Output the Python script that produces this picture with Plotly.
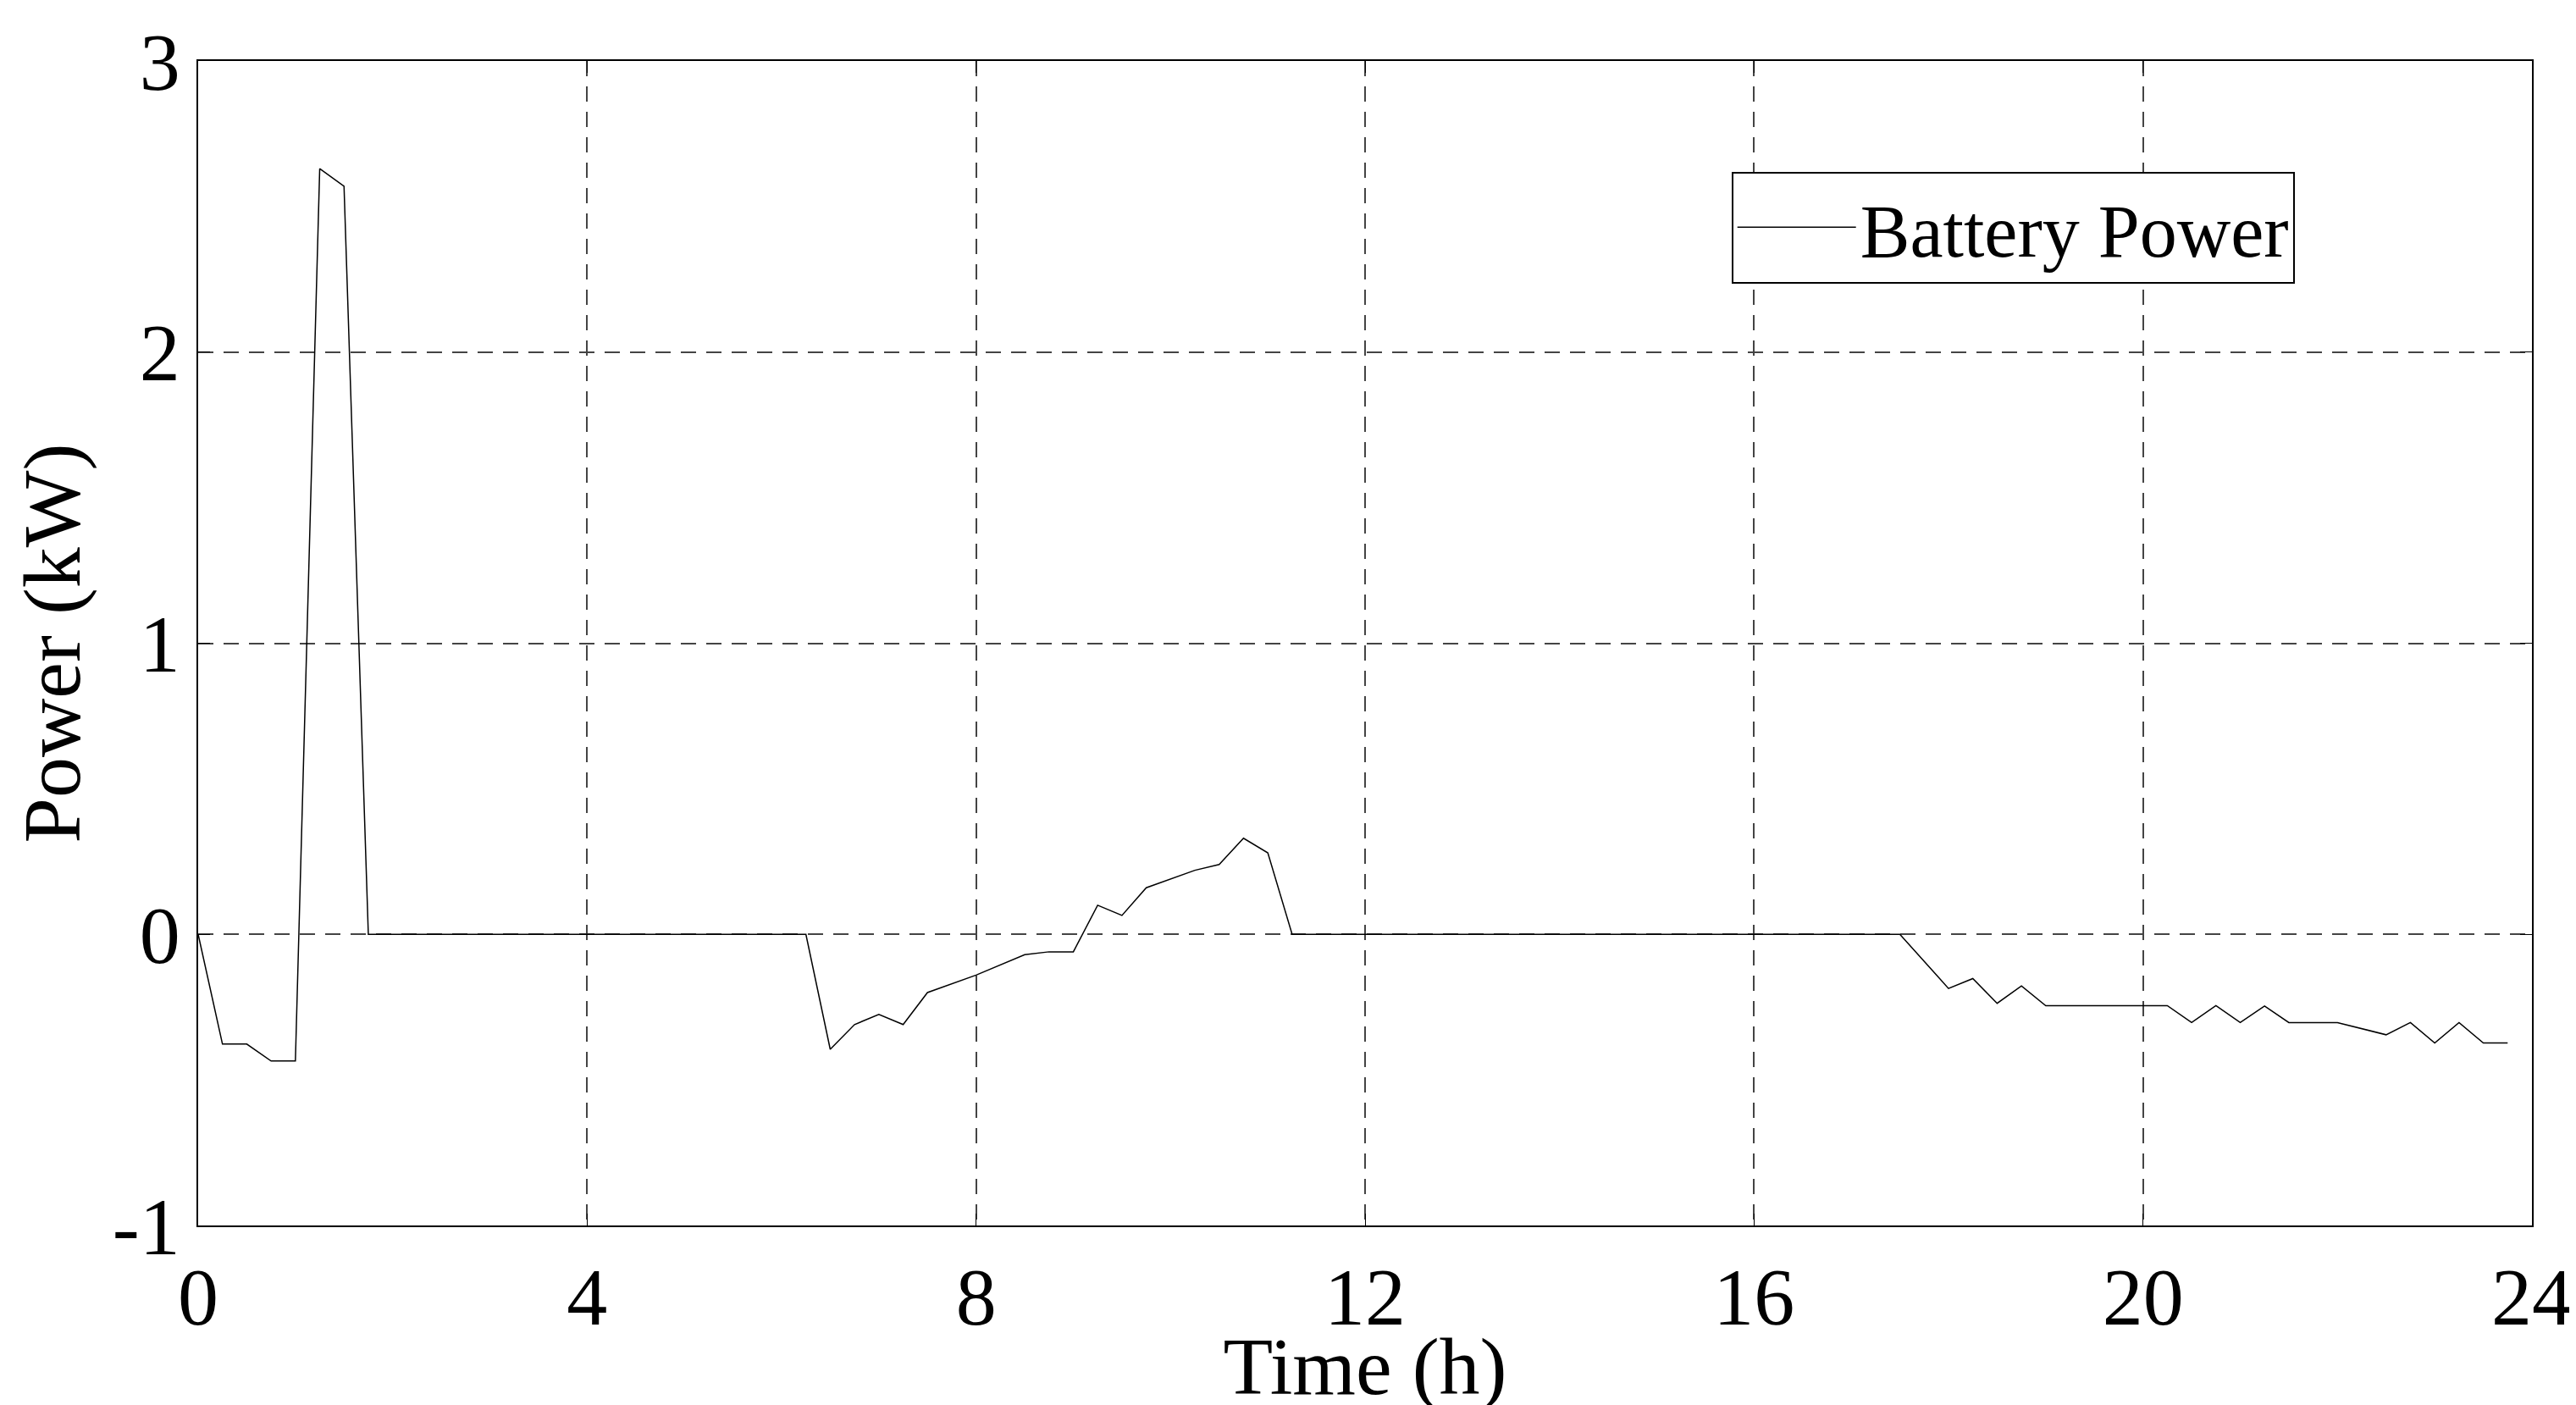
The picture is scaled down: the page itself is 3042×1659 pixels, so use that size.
import plotly.graph_objects as go

time_h = [0, 0.25, 0.5, 0.75, 1.0, 1.25, 1.5, 1.75, 6.25, 6.5, 6.75, 7.0, 7.25, 7.5, 8.0,
          8.5, 8.75, 9.0, 9.25, 9.5, 9.75, 10.0, 10.25, 10.5, 10.75, 11.0, 11.25,
          17.5, 18.0, 18.25, 18.5, 18.75, 19.0, 20.25, 20.5, 20.75, 21.0, 21.25, 21.5,
          22.0, 22.5, 22.75, 23.0, 23.25, 23.5, 23.75]
power_kw = [0, -0.377, -0.377, -0.435, -0.435, 2.63, 2.57, 0, 0, -0.395, -0.31, -0.275, -0.31, -0.20, -0.14,
            -0.07, -0.06, -0.06, 0.10, 0.065, 0.16, 0.19, 0.22, 0.24, 0.33, 0.28, 0,
            0, -0.186, -0.152, -0.237, -0.177, -0.245, -0.245, -0.303, -0.245, -0.303, -0.246, -0.303,
            -0.303, -0.345, -0.303, -0.373, -0.303, -0.373, -0.373]
x_ticks = [0, 4, 8, 12, 16, 20, 24]
y_ticks = [-1, 0, 1, 2, 3]
y_tick_labels = ["-1", "0", "1", "2", "3"]

font = "Liberation Serif"
fig = go.Figure(go.Scatter(x=time_h, y=power_kw, mode="lines", name="Battery Power",
                           line=dict(color="black", width=1.5)))
axis = dict(showline=True, linecolor="black", linewidth=2, mirror="ticks", ticks="inside",
            ticklen=14, tickcolor="black", showgrid=True, gridcolor="#444", griddash="18px,12px",
            gridwidth=1.5, zeroline=False, tickfont=dict(family=font, size=96, color="black"))
fig.update_xaxes(range=[0, 24], tickvals=x_ticks, title=dict(text="Time (h)", standoff=0,
                 font=dict(family=font, size=96, color="black")), **axis)
fig.update_yaxes(range=[-1, 3], tickvals=y_ticks, ticktext=y_tick_labels,
                 title=dict(text="Power (kW)", standoff=30,
                 font=dict(family=font, size=96, color="black")), **axis)
fig.update_layout(width=3042, height=1659, plot_bgcolor="white", paper_bgcolor="white",
                  margin=dict(l=226, r=58, t=58, b=220), showlegend=True,
                  legend=dict(x=0.657, y=0.905, xanchor="left", yanchor="top", itemwidth=140,
                              bordercolor="black", borderwidth=2, bgcolor="white",
                              font=dict(family=font, size=88, color="black")))
fig.write_html("out.html")
